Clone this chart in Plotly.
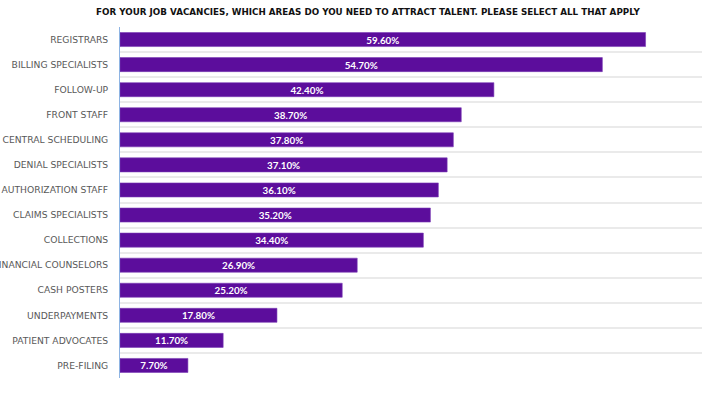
import plotly.graph_objects as go

categories = ["REGISTRARS", "BILLING SPECIALISTS", "FOLLOW-UP", "FRONT STAFF",
              "CENTRAL SCHEDULING", "DENIAL SPECIALISTS", "AUTHORIZATION STAFF",
              "CLAIMS SPECIALISTS", "COLLECTIONS", "FINANCIAL COUNSELORS",
              "CASH POSTERS", "UNDERPAYMENTS", "PATIENT ADVOCATES", "PRE-FILING"]
values = [59.6, 54.7, 42.4, 38.7, 37.8, 37.1, 36.1, 35.2, 34.4, 26.9, 25.2, 17.8, 11.7, 7.7]
labels = [f"{v:.2f}%" for v in values]
title = "FOR YOUR JOB VACANCIES, WHICH AREAS DO YOU NEED TO ATTRACT TALENT. PLEASE SELECT ALL THAT APPLY"

fig = go.Figure(go.Bar(
    x=values, y=categories, orientation="h",
    text=labels, textposition="inside", insidetextanchor="middle",
    textfont=dict(family="Lato", size=9.8, color="white", weight="bold"),
    constraintext="none",
    marker=dict(color="#5C0D9C", line=dict(color="#7A3DB5", width=0.6)),
    width=0.56, cliponaxis=False,
))

fig.update_layout(
    width=702, height=397,
    margin=dict(l=120, r=0, t=27, b=19, autoexpand=False),
    paper_bgcolor="white", plot_bgcolor="white",
    showlegend=False,
    annotations=[dict(text=f"<b>{title}</b>", x=(368 - 120) / 582, y=1 + (27 - 12) / 351,
                      xref="paper", yref="paper", showarrow=False,
                      xanchor="center", yanchor="middle",
                      font=dict(family="DejaVu Sans", size=8.75, color="#111111"))],
)

fig.update_xaxes(range=[0, 66], showgrid=False, showticklabels=False, zeroline=False,
                 showline=False, fixedrange=True, automargin=False)
fig.update_yaxes(autorange="reversed", tickson="boundaries", showgrid=True,
                 gridcolor="#EAEAEA", gridwidth=1.5, ticks="", ticklen=0,
                 showline=True, linecolor="#8EB4E3", linewidth=1,
                 tickfont=dict(family="DejaVu Sans", size=9.2, color="#595959"),
                 ticklabelstandoff=9, automargin=False)

fig.write_html("out.html", config={"displayModeBar": False},
               post_script="document.body.style.margin='0';document.body.style.overflow='hidden';")
